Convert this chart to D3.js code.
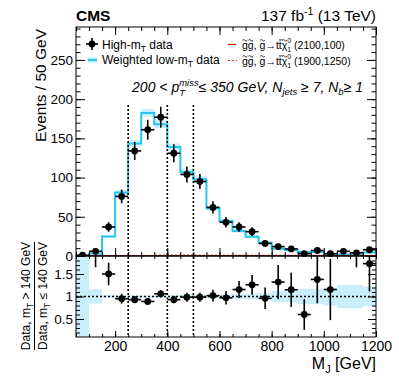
<!DOCTYPE html>
<html>
<head>
<meta charset="utf-8">
<script src="https://cdn.jsdelivr.net/npm/d3@7"></script>
<style>
  body { margin: 0; background: #fff; }
  svg text { font-family: "Liberation Sans", Arial, Helvetica, sans-serif; white-space: pre; fill: #000; }
</style>
</head>
<body>
<div id="vis"></div>
<script>
// bin centres in M_J (GeV), 50 GeV wide bins
var binCenters = [75, 125, 175, 225, 275, 325, 375, 425, 475, 525, 575, 625,
                  675, 725, 775, 825, 875, 925, 975, 1025, 1075, 1125, 1175];

// High-mT data (events / bin) and its error bars
var dataCounts = [1, 6, 37, 76, 134, 161, 177, 131, 104, 95, 62, 43,
                  37, 31, 16, 12, 9, 3, 7, 3, 6, 4, 8];
var dataErrors = [1, 2.4, 6.1, 8.7, 11.6, 12.7, 13.3, 11.4, 10.2, 9.7, 7.9, 6.6,
                  6.1, 5.6, 4, 3.5, 3, 1.7, 2.6, 1.7, 2.4, 2, 2.8];

// weighted low-mT data (histogram) and its uncertainty band
var lowMt = [0, 3, 25, 81, 143.5, 182.5, 168, 139, 107, 98, 61, 44.5,
             32, 24.6, 17, 9.2, 7.8, 5, 5.1, 2.6, 2, 1.5, 4.6];
var lowMtUnc = [0.3, 0.5, 1.5, 3, 4.5, 5, 5, 4.5, 4, 4, 3, 2.5,
                2.2, 2, 1.6, 1.3, 1.2, 0.9, 0.9, 0.6, 0.5, 0.4, 1];

// signal models (both sit close to zero)
var sig2100 = [0.3, 0.3, 0.3, 0.3, 0.3, 0.3, 0.3, 0.3, 0.3, 0.3, 0.3, 0.3,
               0.3, 0.3, 0.3, 0.3, 0.3, 0.3, 0.3, 0.3, 0.3, 0.3, 0.3];
var sig1900 = [0, 0, 0, 0, 0, 0.6, 1.2, 1.3, 1.3, 1.2, 1.2, 1.1,
               1.1, 1.0, 1.0, 1.0, 0.9, 0.9, 0.9, 0.9, 0.8, 0.8, 0.8];

// ratio panel: data(high mT) / data(low mT)
var ratioValues = [null, 2.05, 1.5, 0.95, 0.93, 0.89, 1.06, 0.93, 0.985, 0.985, 1.02, 0.97,
                   1.155, 1.26, 0.96, 1.32, 1.15, 0.6, 1.38, 1.155, 2.8, 2.6, 1.73];
var ratioErrors = [0, 0.4, 0.25, 0.11, 0.08, 0.07, 0.08, 0.08, 0.1, 0.1, 0.13, 0.15,
                   0.19, 0.22, 0.24, 0.38, 0.38, 0.34, 0.53, 0.68, 0.8, 0.95, 0.62];
var ratioBand = [1.5, 0.16, 0.03, 0.02, 0.02, 0.02, 0.02, 0.025, 0.03, 0.03, 0.035, 0.04,
                 0.05, 0.06, 0.08, 0.13, 0.13, 0.17, 0.17, 0.2, 0.26, 0.26, 0.22];

// dotted vertical lines (M_J bin boundaries)
var cutLines = [250, 400, 500];

var xTickLabels = [200, 400, 600, 800, 1000, 1200];
var yTickLabels = [0, 50, 100, 150, 200, 250];
var ratioTickLabels = [0.5, 1, 1.5];

var binWidth = 50;

// layout
var W = 399, H = 383;
var L = 76, R = 376;
var mainTop = 27, mainBot = 256, ratTop = 256, ratBot = 337;

var cyanLine = '#27c6f2', cyanBand = '#c8effb';

var svg = d3.select('#vis').append('svg').attr('width', W).attr('height', H);

var x = d3.scaleLinear().domain([50, 1200]).range([L, R]);
var y = d3.scaleLinear().domain([0, 292]).range([mainBot, mainTop]);
var yr = d3.scaleLinear().domain([0.1, 1.9]).range([ratBot, ratTop]);

var defs = svg.append('defs');
defs.append('clipPath').attr('id', 'clipMain').append('rect')
  .attr('x', L).attr('y', mainTop).attr('width', R - L).attr('height', mainBot - mainTop);
defs.append('clipPath').attr('id', 'clipRatio').append('rect')
  .attr('x', L).attr('y', ratTop).attr('width', R - L).attr('height', ratBot - ratTop);

// one text element made of tspans (sub/superscripts); returns group, width and piece positions.
// a piece with stack:true starts at the same x as the previous one
function rich(parent, pieces, base) {
  var g = parent.append('g');
  var txt = g.append('text')
    .style('font-style', base.italic ? 'italic' : 'normal')
    .style('font-weight', base.bold ? 'bold' : 'normal');
  var end = 0, prevStart = 0, pos = [];
  pieces.forEach(function (p) {
    var start = p.stack ? prevStart : end;
    var t = txt.append('tspan')
      .attr('x', start).attr('y', -(p.up || 0))
      .style('font-size', (p.fs || base.fs) + 'px')
      .text(p.t);
    var w = t.node().getComputedTextLength();
    pos.push({ start: start, w: w });
    prevStart = start;
    end = Math.max(end, start + w);
  });
  return { g: g, w: end, pos: pos };
}

function stepPoints(vals) {
  var pts = binCenters.map(function (c, i) { return [c - binWidth / 2, vals[i]]; });
  pts.push([binCenters[binCenters.length - 1] + binWidth / 2, vals[vals.length - 1]]);
  return pts;
}

var stepLine = d3.line()
  .x(function (d) { return x(d[0]); })
  .y(function (d) { return y(d[1]); })
  .curve(d3.curveStepAfter);

// ---------------- main panel ----------------
var main = svg.append('g');
var mainClipped = main.append('g').attr('clip-path', 'url(#clipMain)');

// uncertainty band of the low-mT histogram
mainClipped.selectAll('.band').data(binCenters).enter().append('rect')
  .attr('x', function (d) { return x(d - binWidth / 2); })
  .attr('width', x(binWidth) - x(0))
  .attr('y', function (d, i) { return y(lowMt[i] + lowMtUnc[i]); })
  .attr('height', function (d, i) { return y(Math.max(lowMt[i] - lowMtUnc[i], 0)) - y(lowMt[i] + lowMtUnc[i]); })
  .attr('fill', cyanBand);

mainClipped.append('path')
  .attr('d', stepLine(stepPoints(lowMt)))
  .attr('fill', 'none').attr('stroke', cyanLine).attr('stroke-width', 2);

mainClipped.append('path')
  .attr('d', stepLine(stepPoints(sig1900)))
  .attr('fill', 'none').attr('stroke', '#ff2a2a').attr('stroke-width', 1)
  .attr('stroke-dasharray', '2,2');
mainClipped.append('path')
  .attr('d', stepLine(stepPoints(sig2100)))
  .attr('fill', 'none').attr('stroke', '#b00000').attr('stroke-width', 1);

// dotted lines through both panels
svg.selectAll('.cut').data(cutLines).enter().append('line')
  .attr('x1', function (d) { return x(d); }).attr('x2', function (d) { return x(d); })
  .attr('y1', 105).attr('y2', ratBot)
  .attr('stroke', '#000').attr('stroke-width', 1.6).attr('stroke-dasharray', '2,2');

// data points
var pts = main.selectAll('.pt').data(binCenters).enter().append('g');
pts.append('line')
  .attr('x1', function (d) { return x(d - binWidth / 2); })
  .attr('x2', function (d) { return x(d + binWidth / 2); })
  .attr('y1', function (d, i) { return y(dataCounts[i]); })
  .attr('y2', function (d, i) { return y(dataCounts[i]); })
  .attr('stroke', '#000').attr('stroke-width', 1.6);
pts.append('line')
  .attr('x1', function (d) { return x(d); }).attr('x2', function (d) { return x(d); })
  .attr('y1', function (d, i) { return y(dataCounts[i] + dataErrors[i]); })
  .attr('y2', function (d, i) { return y(Math.max(dataCounts[i] - dataErrors[i], 0)); })
  .attr('stroke', '#000').attr('stroke-width', 1.6);
pts.append('circle')
  .attr('cx', function (d) { return x(d); })
  .attr('cy', function (d, i) { return y(dataCounts[i]); })
  .attr('r', 3.4).attr('fill', '#000');

// ---------------- ratio panel ----------------
var ratio = svg.append('g');
var ratioClipped = ratio.append('g').attr('clip-path', 'url(#clipRatio)');

ratioClipped.selectAll('.rband').data(binCenters).enter().append('rect')
  .attr('x', function (d) { return x(d - binWidth / 2); })
  .attr('width', x(binWidth) - x(0))
  .attr('y', function (d, i) { return yr(1 + ratioBand[i]); })
  .attr('height', function (d, i) { return yr(1 - ratioBand[i]) - yr(1 + ratioBand[i]); })
  .attr('fill', cyanBand);

ratio.append('line')
  .attr('x1', L).attr('x2', R).attr('y1', yr(1)).attr('y2', yr(1))
  .attr('stroke', '#000').attr('stroke-width', 1.4).attr('stroke-dasharray', '2,2');

var rIdx = d3.range(binCenters.length).filter(function (i) { return ratioValues[i] !== null; });
var rpts = ratioClipped.selectAll('.rpt').data(rIdx).enter().append('g');
rpts.append('line')
  .attr('x1', function (i) { return x(binCenters[i]); })
  .attr('x2', function (i) { return x(binCenters[i]); })
  .attr('y1', function (i) { return yr(ratioValues[i] + ratioErrors[i]); })
  .attr('y2', function (i) { return yr(ratioValues[i] - ratioErrors[i]); })
  .attr('stroke', '#000').attr('stroke-width', 1.6);
var inRange = rIdx.filter(function (i) { return ratioValues[i] < 1.9; });
var rin = ratioClipped.selectAll('.rin').data(inRange).enter().append('g');
rin.append('line')
  .attr('x1', function (i) { return x(binCenters[i] - binWidth / 2); })
  .attr('x2', function (i) { return x(binCenters[i] + binWidth / 2); })
  .attr('y1', function (i) { return yr(ratioValues[i]); })
  .attr('y2', function (i) { return yr(ratioValues[i]); })
  .attr('stroke', '#000').attr('stroke-width', 1.6);
rin.append('circle')
  .attr('cx', function (i) { return x(binCenters[i]); })
  .attr('cy', function (i) { return yr(ratioValues[i]); })
  .attr('r', 3.4).attr('fill', '#000');

// ---------------- axes ----------------
function styleAxis(g, fs) {
  g.select('.domain').remove();
  g.selectAll('line').attr('stroke', '#000');
  g.selectAll('text').style('font-size', fs + 'px').attr('fill', '#000');
}

// main y
svg.append('g').attr('transform', 'translate(' + L + ',0)')
  .call(d3.axisLeft(y).tickValues(yTickLabels).tickSizeInner(-9).tickSizeOuter(0).tickPadding(3))
  .call(styleAxis, 13.5);
svg.append('g').attr('transform', 'translate(' + L + ',0)')
  .call(d3.axisLeft(y).tickValues(d3.range(0, 291, 10)).tickSize(-4.5).tickFormat(''))
  .call(styleAxis, 13.5);
svg.append('g').attr('transform', 'translate(' + R + ',0)')
  .call(d3.axisRight(y).tickValues(yTickLabels).tickSize(-9).tickFormat(''))
  .call(styleAxis, 13.5);
svg.append('g').attr('transform', 'translate(' + R + ',0)')
  .call(d3.axisRight(y).tickValues(d3.range(0, 291, 10)).tickSize(-4.5).tickFormat(''))
  .call(styleAxis, 13.5);

// main x (top and bottom ticks only)
var xMinor = d3.range(50, 1201, 50);
[[mainBot, d3.axisBottom], [mainTop, d3.axisTop]].forEach(function (a) {
  svg.append('g').attr('transform', 'translate(0,' + a[0] + ')')
    .call(a[1](x).tickValues(xTickLabels).tickSize(-8).tickFormat('')).call(styleAxis, 14);
  svg.append('g').attr('transform', 'translate(0,' + a[0] + ')')
    .call(a[1](x).tickValues(xMinor).tickSize(-4).tickFormat('')).call(styleAxis, 14);
});

// ratio y
svg.append('g').attr('transform', 'translate(' + L + ',0)')
  .call(d3.axisLeft(yr).tickValues(ratioTickLabels).tickSizeInner(-8).tickSizeOuter(0).tickPadding(3)
    .tickFormat(function (d) { return d; }))
  .call(styleAxis, 13.5);
svg.append('g').attr('transform', 'translate(' + L + ',0)')
  .call(d3.axisLeft(yr).tickValues(d3.range(0.2, 1.85, 0.1)).tickSize(-4).tickFormat(''))
  .call(styleAxis, 13.5);
svg.append('g').attr('transform', 'translate(' + R + ',0)')
  .call(d3.axisRight(yr).tickValues(ratioTickLabels).tickSize(-8).tickFormat(''))
  .call(styleAxis, 13.5);
svg.append('g').attr('transform', 'translate(' + R + ',0)')
  .call(d3.axisRight(yr).tickValues(d3.range(0.2, 1.85, 0.1)).tickSize(-4).tickFormat(''))
  .call(styleAxis, 13.5);

// ratio x
svg.append('g').attr('transform', 'translate(0,' + ratBot + ')')
  .call(d3.axisBottom(x).tickValues(xTickLabels).tickSizeInner(-6).tickSizeOuter(0).tickPadding(4)
    .tickFormat(d3.format('d')))
  .call(styleAxis, 14);
svg.append('g').attr('transform', 'translate(0,' + ratBot + ')')
  .call(d3.axisBottom(x).tickValues(xMinor).tickSize(-3).tickFormat(''))
  .call(styleAxis, 14);
svg.append('g').attr('transform', 'translate(0,' + ratTop + ')')
  .call(d3.axisTop(x).tickValues(xMinor).tickSize(-3).tickFormat(''))
  .call(styleAxis, 14);

// frames
svg.append('rect').attr('x', L).attr('y', mainTop).attr('width', R - L).attr('height', mainBot - mainTop)
  .attr('fill', 'none').attr('stroke', '#000').attr('stroke-width', 1);
svg.append('rect').attr('x', L).attr('y', ratTop).attr('width', R - L).attr('height', ratBot - ratTop)
  .attr('fill', 'none').attr('stroke', '#000').attr('stroke-width', 1);

// ---------------- texts ----------------
var cms = rich(svg, [{ t: 'CMS' }], { fs: 15.5, bold: true });
cms.g.attr('transform', 'translate(' + L + ',21)');

var lumi = rich(svg, [{ t: '137 fb' }, { t: '-1', fs: 10.5, up: 6 }, { t: ' (13 TeV)' }], { fs: 15.5 });
lumi.g.attr('transform', 'translate(' + (R - lumi.w) + ',21)');

var ytitle = rich(svg, [{ t: 'Events / 50 GeV' }], { fs: 15.5 });
ytitle.g.attr('transform', 'translate(46,29) rotate(-90) translate(' + (-ytitle.w) + ',0)');

var xtitle = rich(svg, [{ t: 'M' }, { t: 'J', fs: 11, up: -4 }, { t: ' [GeV]' }], { fs: 16 });
xtitle.g.attr('transform', 'translate(' + (R - xtitle.w) + ',369)');

var num = rich(svg, [{ t: 'Data, m' }, { t: 'T', fs: 8.5, up: -3 }, { t: ' > 140 GeV' }], { fs: 12 });
num.g.attr('transform', 'translate(30,296) rotate(-90) translate(' + (-num.w / 2) + ',0)');
var den = rich(svg, [{ t: 'Data, m' }, { t: 'T', fs: 8.5, up: -3 }, { t: ' \u2264 140 GeV' }], { fs: 12 });
den.g.attr('transform', 'translate(46.5,296) rotate(-90) translate(' + (-den.w / 2) + ',0)');
var fw = Math.max(num.w, den.w);
svg.append('line').attr('x1', 34.5).attr('x2', 34.5)
  .attr('y1', 296 - fw / 2).attr('y2', 296 + fw / 2)
  .attr('stroke', '#000').attr('stroke-width', 1);

// cut label
var cut = rich(svg, [
  { t: '200 < p' },
  { t: 'miss', fs: 9.5, up: 5.5 },
  { t: 'T', fs: 9.5, up: -4, stack: true },
  { t: '\u2264 350 GeV, N' },
  { t: 'jets', fs: 9.5, up: -3.5 },
  { t: ' \u2265 7, N' },
  { t: 'b', fs: 9.5, up: -3.5 },
  { t: '\u2265 1' }
], { fs: 14, italic: true });
cut.g.attr('transform', 'translate(' + (363 - cut.w) + ',91.5)');

// legend: data marker
var leg = svg.append('g');
leg.append('line').attr('x1', 86).attr('x2', 98).attr('y1', 44).attr('y2', 44).attr('stroke', '#000').attr('stroke-width', 1.6);
leg.append('line').attr('x1', 92).attr('x2', 92).attr('y1', 38).attr('y2', 50).attr('stroke', '#000').attr('stroke-width', 1.6);
leg.append('circle').attr('cx', 92).attr('cy', 44).attr('r', 3.4).attr('fill', '#000');
var l1 = rich(leg, [{ t: 'High-m' }, { t: 'T', fs: 8.5, up: -3 }, { t: ' data' }], { fs: 12 });
l1.g.attr('transform', 'translate(102,48.5)');

leg.append('rect').attr('x', 88).attr('y', 57).attr('width', 9).attr('height', 6).attr('fill', cyanBand);
leg.append('line').attr('x1', 88).attr('x2', 97).attr('y1', 60).attr('y2', 60).attr('stroke', cyanLine).attr('stroke-width', 2);
var l2 = rich(leg, [{ t: 'Weighted low-m' }, { t: 'T', fs: 8.5, up: -3 }, { t: ' data' }], { fs: 12 });
l2.g.attr('transform', 'translate(102,64)');

// signal legend entries: letters with drawn tildes / bar
leg.append('line').attr('x1', 228).attr('x2', 236).attr('y1', 44.5).attr('y2', 44.5).attr('stroke', '#e00000').attr('stroke-width', 1.2);
leg.append('line').attr('x1', 228).attr('x2', 237).attr('y1', 60.5).attr('y2', 60.5).attr('stroke', '#ff3030').attr('stroke-width', 1.2).attr('stroke-dasharray', '2,2');

function sigEntry(label, yb) {
  var pieces = [{ t: 'g' }, { t: 'g' }, { t: ', ' }, { t: 'g' }, { t: '\u2192' }, { t: 't' }, { t: 't' },
    { t: '\u03C7' }, { t: '0', fs: 7, up: 5.5 }, { t: '1', fs: 7, up: -3.5, stack: true }, { t: ' ' + label }];
  var e = rich(leg, pieces, { fs: 10.5 });
  e.g.attr('transform', 'translate(242,' + yb + ')');
  // tildes over g, g, g and chi
  [0, 1, 3, 7].forEach(function (k) {
    var p = e.pos[k], cx = p.start + p.w / 2;
    e.g.append('path')
      .attr('d', 'M' + (cx - 2.4) + ',-8.2 q1.2,-1.6 2.4,0 t2.4,0')
      .attr('fill', 'none').attr('stroke', '#000').attr('stroke-width', 0.8);
  });
  // bar over the second t
  var pt = e.pos[6];
  e.g.append('line').attr('x1', pt.start + 0.2).attr('x2', pt.start + pt.w + 0.4)
    .attr('y1', -8.6).attr('y2', -8.6).attr('stroke', '#000').attr('stroke-width', 0.8);
}
sigEntry('(2100,100)', 48.5);
sigEntry('(1900,1250)', 64.5);
</script>
</body>
</html>
